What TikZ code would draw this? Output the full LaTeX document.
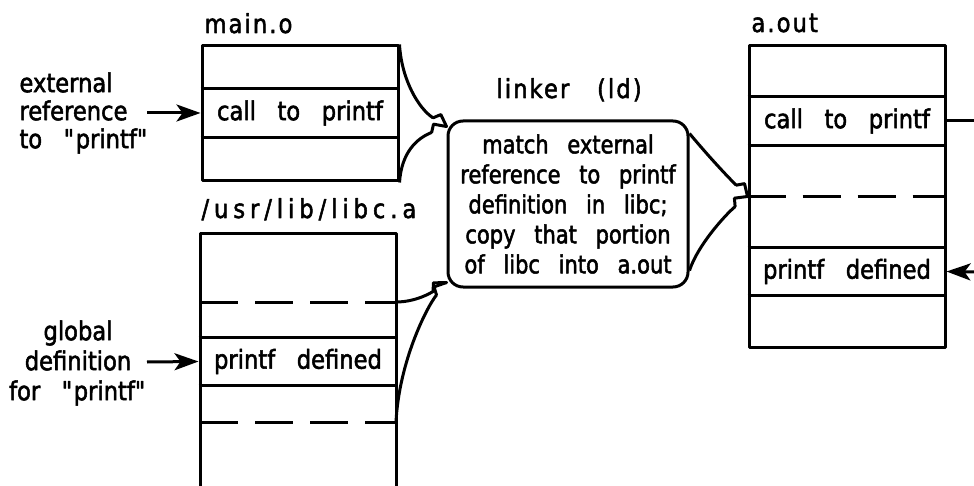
\documentclass[tikz,border=0pt]{standalone}
\usepackage{fontspec}
\setmainfont[WordSpace=3,FakeStretch=0.87,FakeBold=2]{DejaVu Sans}
\newfontfamily\titlefont[WordSpace=3,LetterSpace=8,FakeStretch=0.87,FakeBold=2]{DejaVu Sans}
\newfontfamily\pathfont[LetterSpace=19,FakeStretch=0.87,FakeBold=2]{DejaVu Sans}
\newfontfamily\boxfont[WordSpace=2.8,FakeStretch=0.84,FakeBold=2]{DejaVu Sans}
\usetikzlibrary{arrows.meta,calc}

\pgfdeclarearrow{
  name = Jog,
  parameters = {\the\pgfarrowlength,\the\pgfarrowwidth},
  setup code = {
    \pgfarrowssettipend{0pt}
    \pgfarrowssetlineend{-\pgfarrowlength}
    \pgfarrowssetbackend{-\pgfarrowlength}
    \pgfarrowshullpoint{0pt}{0pt}
    \pgfarrowshullpoint{-\pgfarrowlength}{0pt}
    \pgfarrowshullpoint{-\pgfarrowlength}{\pgfarrowwidth}
    \pgfarrowssavethe\pgfarrowlength
    \pgfarrowssavethe\pgfarrowwidth
  },
  drawing code = {
    \pgfsetdash{}{0pt}
    \pgfsetroundjoin
    \pgfsetroundcap
    \pgfpathmoveto{\pgfqpoint{-\pgfarrowlength}{0pt}}
    \pgfpathlineto{\pgfqpoint{-0.7\pgfarrowlength}{\pgfarrowwidth}}
    \pgfpathlineto{\pgfqpoint{0pt}{0pt}}
    \pgfusepathqstroke
  },
  defaults = {length=16pt, width=7pt}
}

\begin{document}
\begin{tikzpicture}[x=1pt,y=-1pt,line width=3pt,line join=round,
  txt/.style={font=\fontsize{26}{27}\selectfont, inner sep=0pt},
  titletxt/.style={font=\titlefont\fontsize{26}{27}\selectfont, inner sep=0pt, anchor=base west},
  box/.style={draw, rectangle, minimum width=196pt, inner sep=0pt},
  row/.style={txt, rectangle, minimum width=196pt},
  dashline/.style={dash pattern=on 38pt off 17pt},
  fillarrow/.style={-{Stealth[length=24pt,width=17pt,inset=6pt]}},
  jogarrow/.style={-{Jog[length=16pt,width=7pt]}}]

\useasboundingbox (0,0) rectangle (974,486);

% ---------- main.o ----------
\node[titletxt] (tmain) at (203,33) {main.o};
\node[box, minimum height=135pt] (maino) at (300,113.5) {};
\node[row, minimum height=46pt] (mcall) at (300,113) {call to printf};
\draw (mcall.north west) -- (mcall.north east);
\draw (mcall.south west) -- (mcall.south east);

\node[txt, align=left, anchor=west, font=\fontsize{26}{28}\selectfont] (extlbl) at (18,113) {external\\reference\\to \textquotedbl printf\textquotedbl};
\coordinate (extstart) at (147,113);
\draw[fillarrow] (extstart) -- (mcall.west);

% ---------- libc.a ----------
\node[titletxt, font=\pathfont\fontsize{26}{27}\selectfont] (tlibc) at (200,218) {/usr/lib/libc.a};
\coordinate (libbl) at (200,486);
\coordinate (libtl) at (200,234);
\coordinate (libtr) at (396,234);
\coordinate (libbr) at (396,486);
\draw (libbl) -- (libtl) -- (libtr) -- (libbr);
\node[row, minimum height=45pt] (ldef) at (298,361.5) {printf defined};
\draw (ldef.north west) -- (ldef.north east);
\draw (ldef.south west) -- (ldef.south east);
\coordinate (lda) at (200,302);
\coordinate (ldae) at (396,302);
\coordinate (ldb) at (200,422);
\coordinate (ldbe) at (396,422);
\draw[dashline] (lda) -- (ldae);
\draw[dashline] (ldb) -- (ldbe);

\node[txt, align=center, font=\fontsize{26}{30}\selectfont] (glbl) at (78,363) {global\\definition\\for \textquotedbl printf\textquotedbl};
\coordinate (glstart) at (147,362);
\draw[fillarrow] (glstart) -- (ldef.west);

% ---------- linker ----------
\node[titletxt] (tlink) at (495,98) {linker (ld)};
\node[draw, rounded corners=15pt, minimum width=240pt, minimum height=166pt,
      align=center, inner sep=0pt, font=\boxfont\fontsize{25}{30}\selectfont] (linker) at (568,204)
  {match external\\reference to printf\\definition in libc;\\copy that portion\\of libc into a.out};

\coordinate (tipL1) at ($(linker.north west)+(0,7)$);
\coordinate (tipL2) at ($(linker.south west)+(0,-6)$);
\coordinate (rs1) at ($(linker.north east)+(0,14)$);
\coordinate (rs2) at ($(linker.south east)+(0,-18)$);

% ---------- a.out ----------
\node[titletxt] (taout) at (750,32) {a.out};
\node[box, minimum height=301pt] (aout) at (847,196.5) {};
\node[row, minimum height=46pt] (acall) at (847,121) {call to printf};
\node[row, minimum height=45pt] (adef) at (847,271.5) {printf defined};
\draw (acall.north west) -- (acall.north east);
\draw (acall.south west) -- (acall.south east);
\draw (adef.north west) -- (adef.north east);
\draw (adef.south west) -- (adef.south east);
\draw[dashline] (aout.west) -- (aout.east);

\coordinate (offA) at (974,121);
\coordinate (offB) at (974,272);
\draw (acall.east) -- (offA);
\draw[fillarrow] (offB) -- (adef.east);

% ---------- curved connectors ----------
\draw[jogarrow] (maino.north east) .. controls +(2,35) and +(-28,-18) .. (tipL1);
\draw[jogarrow] (maino.south east) .. controls +(2,-30) and +(-30,12) .. (tipL1);
\draw[jogarrow] (ldae) .. controls +(20,0) and +(-15,10) .. (tipL2);
\draw[jogarrow] (ldbe) .. controls +(3,-60) and +(-20,25) .. (tipL2);
\draw[jogarrow] (rs1) .. controls +(15,18) and +(-25,-25) .. (aout.west);
\draw[jogarrow] (rs2) .. controls +(8,-25) and +(-22,18) .. (aout.west);

\end{tikzpicture}
\end{document}
